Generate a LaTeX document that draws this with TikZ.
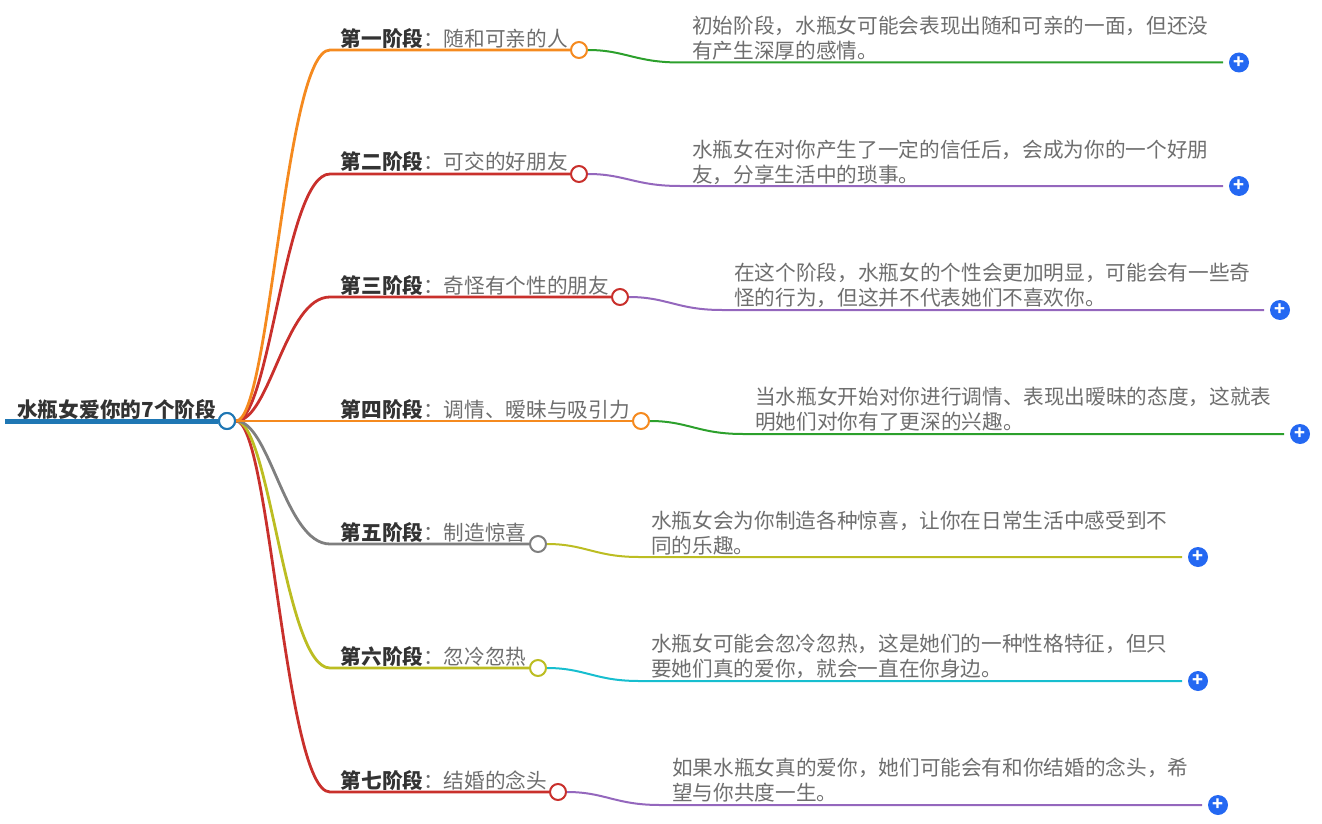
\documentclass[tikz,border=0pt]{standalone}
\usepackage{fontspec}
\setmainfont{Noto Sans CJK SC}
\definecolor{rootblue}{HTML}{1F77B4}
\definecolor{maporange}{HTML}{F58A1F}
\definecolor{mapred}{HTML}{C9302C}
\definecolor{mapgray}{HTML}{7F7F7F}
\definecolor{mapolive}{HTML}{BCBD22}
\definecolor{mapgreen}{HTML}{2CA02C}
\definecolor{mappurple}{HTML}{9467BD}
\definecolor{mapcyan}{HTML}{17BECF}
\definecolor{plusblue}{HTML}{2468F2}
\definecolor{textgray}{HTML}{6E6E6E}
\definecolor{titlegray}{HTML}{333333}
\tikzset{
  knob/.style={circle,draw=#1,fill=white,line width=2pt,minimum size=16pt,inner sep=0pt},
  branch/.style={draw=#1,line width=2.8pt},
  twig/.style={draw=#1,line width=2pt},
  rootlabel/.style={anchor=west,inner sep=0pt,text=titlegray,font=\fontsize{20.7}{25}\selectfont\bfseries},
  stagelabel/.style={anchor=west,inner sep=0pt,text=textgray,font=\fontsize{20.65}{25}\selectfont},
  detail/.style={anchor=west,inner sep=0pt,align=left,text=textgray,font=\fontsize{20.65}{25}\selectfont},
  plusbtn/.style={circle,fill=plusblue,text=white,minimum size=20pt,inner sep=0pt,font=\fontsize{18}{18}\selectfont\bfseries},
}
\newcommand{\stagename}[1]{\textbf{\textcolor{titlegray}{#1}}：}
\begin{document}
\begin{tikzpicture}[x=1pt,y=-1pt]%
\useasboundingbox (0,0) rectangle (1322,824);%
% root
\coordinate (rootstart) at (5,421);%
\node[rootlabel] (roottext) at (17,409.5) {水瓶女爱你的7个阶段};%
\node[knob=rootblue] (hub) at (227,421) {};%
\draw[branch=rootblue,line width=5pt] (rootstart) -- (hub);%
% stage dots
\node[knob=maporange] (dot1) at (579,50) {};%
\node[knob=mapred] (dot2) at (579,174) {};%
\node[knob=mapred] (dot3) at (620,297) {};%
\node[knob=maporange] (dot4) at (641,421) {};%
\node[knob=mapgray] (dot5) at (538,544) {};%
\node[knob=mapolive] (dot6) at (538,668) {};%
\node[knob=mapred] (dot7) at (558,792) {};%
% bends on the way to the dots
\coordinate (bend1) at (330,50);%
\coordinate (bend2) at (330,174);%
\coordinate (bend3) at (330,297);%
\coordinate (bend5) at (330,544);%
\coordinate (bend6) at (330,668);%
\coordinate (bend7) at (330,792);%
% branches
\draw[branch=mapred] (hub.east) .. controls (270,421) and (285,792) .. (bend7) -- (dot7);%
\draw[branch=mapolive] (hub.east) .. controls (270,421) and (285,668) .. (bend6) -- (dot6);%
\draw[branch=mapgray] (hub.east) .. controls (270,421) and (285,544) .. (bend5) -- (dot5);%
\draw[branch=mapred] (hub.east) .. controls (270,421) and (285,297) .. (bend3) -- (dot3);%
\draw[branch=mapred] (hub.east) .. controls (270,421) and (285,174) .. (bend2) -- (dot2);%
\draw[branch=maporange] (hub.east) .. controls (270,421) and (285,50) .. (bend1) -- (dot1);%
\draw[branch=maporange] (hub.east) -- (dot4);%
\node[knob=rootblue] at (hub) {};%
% stage labels
\node[stagelabel] (stage1) at (340.5,38.5) {\stagename{第一阶段}随和可亲的人};%
\node[stagelabel] (stage2) at (340.5,161.5) {\stagename{第二阶段}可交的好朋友};%
\node[stagelabel] (stage3) at (340.5,285.5) {\stagename{第三阶段}奇怪有个性的朋友};%
\node[stagelabel] (stage4) at (340.5,409.5) {\stagename{第四阶段}调情、暧昧与吸引力};%
\node[stagelabel] (stage5) at (340.5,532.5) {\stagename{第五阶段}制造惊喜};%
\node[stagelabel] (stage6) at (340.5,656.5) {\stagename{第六阶段}忽冷忽热};%
\node[stagelabel] (stage7) at (340.5,780.5) {\stagename{第七阶段}结婚的念头};%
% details
\node[detail] (detail1) at (692,38.5) {初始阶段，水瓶女可能会表现出随和可亲的一面，但还没\\有产生深厚的感情。};%
\node[detail] (detail2) at (692,162) {水瓶女在对你产生了一定的信任后，会成为你的一个好朋\\友，分享生活中的琐事。};%
\node[detail] (detail3) at (734,285.5) {在这个阶段，水瓶女的个性会更加明显，可能会有一些奇\\怪的行为，但这并不代表她们不喜欢你。};%
\node[detail] (detail4) at (755,409) {当水瓶女开始对你进行调情、表现出暧昧的态度，这就表\\明她们对你有了更深的兴趣。};%
\node[detail] (detail5) at (651,533) {水瓶女会为你制造各种惊喜，让你在日常生活中感受到不\\同的乐趣。};%
\node[detail] (detail6) at (651,656) {水瓶女可能会忽冷忽热，这是她们的一种性格特征，但只\\要她们真的爱你，就会一直在你身边。};%
\node[detail] (detail7) at (672,780) {如果水瓶女真的爱你，她们可能会有和你结婚的念头，希\\望与你共度一生。};%
% plus buttons
\node[plusbtn] (plus1) at (1239,62.5) {+};%
\node[plusbtn] (plus2) at (1239,186) {+};%
\node[plusbtn] (plus3) at (1280,310) {+};%
\node[plusbtn] (plus4) at (1300,434) {+};%
\node[plusbtn] (plus5) at (1198,557) {+};%
\node[plusbtn] (plus6) at (1198,681) {+};%
\node[plusbtn] (plus7) at (1218,805) {+};%
% ends of the second curves
\coordinate (flat1) at (680,62.5);%
\coordinate (flat2) at (680,186);%
\coordinate (flat3) at (722,310);%
\coordinate (flat4) at (743,434);%
\coordinate (flat5) at (639,557);%
\coordinate (flat6) at (639,681);%
\coordinate (flat7) at (660,805);%
\coordinate (stop1) at (1223,62.5);%
\coordinate (stop2) at (1223,186);%
\coordinate (stop3) at (1264,310);%
\coordinate (stop4) at (1284,434);%
\coordinate (stop5) at (1182,557);%
\coordinate (stop6) at (1182,681);%
\coordinate (stop7) at (1202,805);%
% twigs
\draw[twig=mapgreen] (dot1.east) .. controls (625,50) and (635,62.5) .. (flat1) -- (stop1);%
\draw[twig=mappurple] (dot2.east) .. controls (625,174) and (635,186) .. (flat2) -- (stop2);%
\draw[twig=mappurple] (dot3.east) .. controls (667,297) and (677,310) .. (flat3) -- (stop3);%
\draw[twig=mapgreen] (dot4.east) .. controls (688,421) and (698,434) .. (flat4) -- (stop4);%
\draw[twig=mapolive] (dot5.east) .. controls (585,544) and (595,557) .. (flat5) -- (stop5);%
\draw[twig=mapcyan] (dot6.east) .. controls (585,668) and (595,681) .. (flat6) -- (stop6);%
\draw[twig=mappurple] (dot7.east) .. controls (605,792) and (615,805) .. (flat7) -- (stop7);%
\end{tikzpicture}
\end{document}
